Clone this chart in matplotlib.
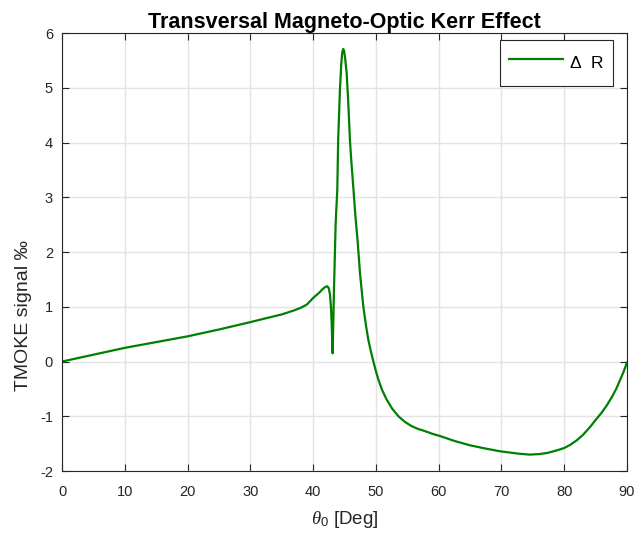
import matplotlib
matplotlib.use("Agg")
import matplotlib.pyplot as plt

plt.rcParams['font.family'] = ['Liberation Sans', 'DejaVu Sans']
plt.rcParams['axes.unicode_minus'] = False
plt.rcParams['mathtext.fontset'] = 'custom'
plt.rcParams['mathtext.it'] = 'Liberation Serif:italic'
plt.rcParams['mathtext.rm'] = 'Liberation Sans'

# Incidence angle (deg) and TMOKE signal (per mille)
theta = [0, 5, 10, 15, 20, 25, 30, 33, 35, 37, 38, 39, 40, 41.0, 41.5, 41.9,
         42.26, 42.5, 42.7, 42.85, 42.96, 43.05, 43.12, 43.22, 43.33, 43.6,
         43.86, 44.0, 44.28, 44.5, 44.65, 44.8, 44.95, 45.1, 45.35, 45.6,
         45.87, 46.1, 46.4, 46.75, 47.1, 47.47, 48.0, 48.4, 48.8, 49.2, 49.6,
         50.0, 50.4, 51.0, 51.7, 52.6, 53.6, 54.6, 55.7, 56.7, 57.8, 59.0,
         60.2, 62.5, 65.0, 67.5, 69.8, 71.5, 72.9, 74.5, 76.1, 77.3, 78.3,
         79.2, 80.0, 81.0, 82.0, 83.0, 84.1, 85.0, 86.0, 86.8, 87.6, 88.3,
         88.9, 89.5, 90.0]
delta_r = [0.0, 0.125, 0.25, 0.355, 0.46, 0.585, 0.72, 0.805, 0.86, 0.935,
           0.98, 1.04, 1.16, 1.26, 1.32, 1.36, 1.375, 1.34, 1.22, 1.0, 0.71,
           0.35, 0.15, 0.7, 1.31, 2.53, 3.14, 4.05, 4.97, 5.45, 5.65, 5.71,
           5.67, 5.55, 5.27, 4.75, 4.05, 3.65, 3.2, 2.65, 2.2, 1.62, 1.01,
           0.68, 0.40, 0.19, 0.005, -0.17, -0.33, -0.52, -0.69, -0.86, -1.0,
           -1.10, -1.18, -1.23, -1.27, -1.32, -1.36, -1.45, -1.53, -1.59,
           -1.64, -1.665, -1.685, -1.70, -1.69, -1.67, -1.64, -1.61, -1.58,
           -1.52, -1.44, -1.34, -1.20, -1.07, -0.93, -0.80, -0.65, -0.50,
           -0.34, -0.18, -0.02]

x_ticks = list(range(0, 91, 10))
y_ticks = list(range(-2, 7))

fig = plt.figure(figsize=(6.34, 5.38), dpi=100)
ax = fig.add_axes([0.0978, 0.1245, 0.891, 0.814])

ax.plot(theta, delta_r, color='#008000', linewidth=1.6, label=r'$\Delta$  R')

ax.set_xlim(0, 90)
ax.set_ylim(-2, 6)
ax.set_xticks(x_ticks)
ax.set_yticks(y_ticks)
ax.grid(True, color='#e3e3e3', linewidth=1.0)
ax.set_axisbelow(True)
ax.tick_params(direction='in', top=True, right=True, length=5,
               labelsize=10.5, colors='#262626', width=0.8)
ax.tick_params(axis='x', pad=10)
ax.tick_params(axis='y', pad=6.5)
for s in ax.spines.values():
    s.set_color('#262626')
    s.set_linewidth(0.8)

ax.set_title('Transversal Magneto-Optic Kerr Effect', fontsize=15.5,
             fontweight='bold', pad=4)
ax.set_xlabel(r'$\mathit{\theta}_0$ [Deg]', fontsize=13.5, color='#262626',
              labelpad=7)
ax.set_ylabel('TMOKE signal ‰', fontsize=14, color='#262626')
ax.yaxis.set_label_coords(-0.054, 0.356)

leg = ax.legend(loc='upper right', bbox_to_anchor=(0.9752, 0.984),
                fontsize=12.5, fancybox=False, framealpha=1,
                edgecolor='#262626', handlelength=3.1, handleheight=2.05,
                borderaxespad=0, borderpad=0.52, handletextpad=0.35)
leg.get_frame().set_linewidth(0.8)

fig.savefig('out.png', dpi=100)
